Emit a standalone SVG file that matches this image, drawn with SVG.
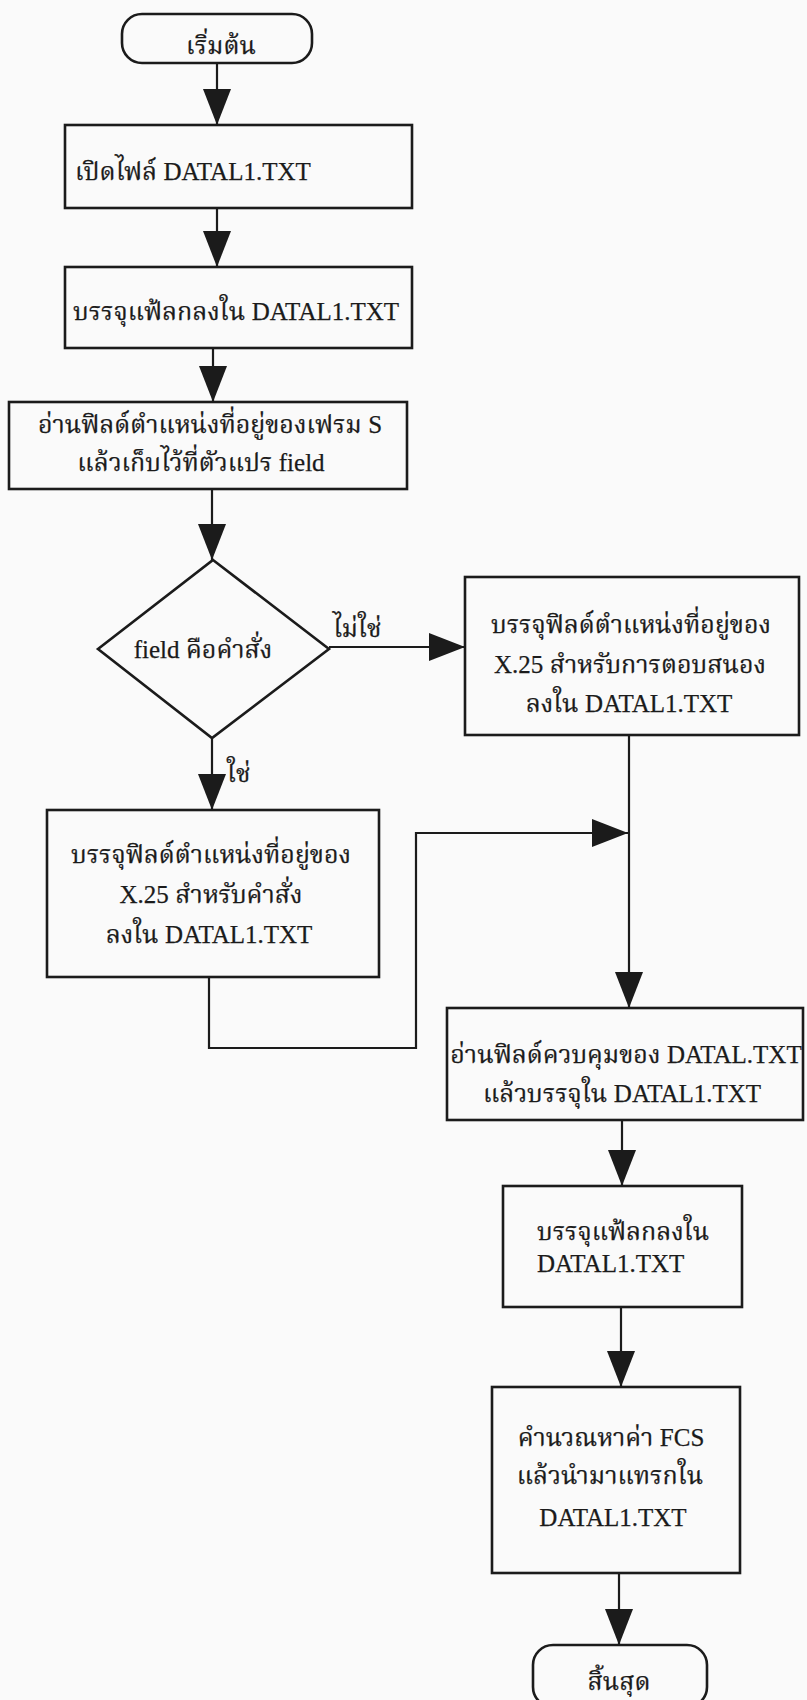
<svg xmlns="http://www.w3.org/2000/svg" width="807" height="1700" viewBox="0 0 807 1700">
  <style>
    .shape { fill: none; stroke: #1b1b1b; stroke-width: 2.6; }
    .wire { fill: none; stroke: #1b1b1b; stroke-width: 2.2; }
    .lbl { font-family: "Noto Serif Thai", "Norasi", "Kinnari", "Noto Sans Thai", "Liberation Serif", serif; font-size: 25px; fill: #1b1b1b; stroke: #1b1b1b; stroke-width: 0.25; }
    .lat { font-family: "Liberation Serif", "Times New Roman", serif; }
    .mid { text-anchor: middle; }
  </style>
  <defs>
    <marker id="ah" markerUnits="userSpaceOnUse" markerWidth="36" markerHeight="28" refX="36" refY="14" orient="auto">
      <path d="M0,0 L36,14 L0,28 Z" fill="#1b1b1b"/>
    </marker>
  </defs>
  <rect width="807" height="1700" fill="#fafafa"/>

  <!-- connectors -->
  <g id="connectors">
    <line class="wire" x1="217" y1="63" x2="217" y2="125" marker-end="url(#ah)"/>
    <line class="wire" x1="217" y1="208" x2="217" y2="267" marker-end="url(#ah)"/>
    <line class="wire" x1="213" y1="348" x2="213" y2="402" marker-end="url(#ah)"/>
    <line class="wire" x1="212" y1="489" x2="212" y2="560" marker-end="url(#ah)"/>
    <line class="wire" x1="329" y1="647" x2="465" y2="647" marker-end="url(#ah)"/>
    <line class="wire" x1="212" y1="738" x2="212" y2="810" marker-end="url(#ah)"/>
    <polyline class="wire" points="209,977 209,1048 416,1048 416,833 628,833" marker-end="url(#ah)"/>
    <line class="wire" x1="629" y1="735" x2="629" y2="1008" marker-end="url(#ah)"/>
    <line class="wire" x1="622" y1="1120" x2="622" y2="1186" marker-end="url(#ah)"/>
    <line class="wire" x1="621" y1="1307" x2="621" y2="1387" marker-end="url(#ah)"/>
    <line class="wire" x1="619" y1="1573" x2="619" y2="1645" marker-end="url(#ah)"/>
    <text class="lbl" x="333" y="637">ไม่ใช่</text>
    <text class="lbl" x="227" y="782">ใช่</text>
  </g>

  <!-- start -->
  <g id="start">
    <rect class="shape" x="122" y="14" width="190" height="49" rx="20"/>
    <text class="lbl mid" x="221" y="54">เริ่มต้น</text>
  </g>

  <g id="open-file">
    <rect class="shape" x="65" y="125" width="347" height="83"/>
    <text class="lbl" x="75" y="180">เปิดไฟล์ <tspan class="lat">DATAL1.TXT</tspan></text>
  </g>

  <g id="put-flag">
    <rect class="shape" x="65" y="267" width="347" height="81"/>
    <text class="lbl" x="73" y="320">บรรจุแฟ้ลกลงใน <tspan class="lat">DATAL1.TXT</tspan></text>
  </g>

  <g id="read-address">
    <rect class="shape" x="9" y="402" width="398" height="87"/>
    <text class="lbl mid" x="210" y="433">อ่านฟิลด์ตำแหน่งที่อยู่ของเฟรม <tspan class="lat">S</tspan></text>
    <text class="lbl mid" x="201" y="471">แล้วเก็บไว้ที่ตัวแปร <tspan class="lat">field</tspan></text>
  </g>

  <g id="is-command">
    <polygon class="shape" points="213,560 329,649 212,738 98,649"/>
    <text class="lbl mid" x="203" y="658"><tspan class="lat">field</tspan> คือคำสั่ง</text>
  </g>

  <g id="store-response">
    <rect class="shape" x="465" y="577" width="334" height="158"/>
    <text class="lbl mid" x="631" y="633">บรรจุฟิลด์ตำแหน่งที่อยู่ของ</text>
    <text class="lbl mid" x="630" y="673"><tspan class="lat">X.25</tspan> สำหรับการตอบสนอง</text>
    <text class="lbl mid" x="629" y="712">ลงใน <tspan class="lat">DATAL1.TXT</tspan></text>
  </g>

  <g id="store-command">
    <rect class="shape" x="47" y="810" width="332" height="167"/>
    <text class="lbl mid" x="211" y="863">บรรจุฟิลด์ตำแหน่งที่อยู่ของ</text>
    <text class="lbl mid" x="211" y="903"><tspan class="lat">X.25</tspan> สำหรับคำสั่ง</text>
    <text class="lbl mid" x="209" y="943">ลงใน <tspan class="lat">DATAL1.TXT</tspan></text>
  </g>

  <g id="read-control">
    <rect class="shape" x="447" y="1008" width="356" height="112"/>
    <text class="lbl mid" x="626" y="1063">อ่านฟิลด์ควบคุมของ <tspan class="lat">DATAL.TXT</tspan></text>
    <text class="lbl mid" x="622" y="1102">แล้วบรรจุใน <tspan class="lat">DATAL1.TXT</tspan></text>
  </g>

  <g id="put-flag-end">
    <rect class="shape" x="503" y="1186" width="239" height="121"/>
    <text class="lbl" x="537" y="1240">บรรจุแฟ้ลกลงใน</text>
    <text class="lbl lat" x="537" y="1272">DATAL1.TXT</text>
  </g>

  <g id="compute-fcs">
    <rect class="shape" x="492" y="1387" width="248" height="186"/>
    <text class="lbl mid" x="611" y="1446">คำนวณหาค่า <tspan class="lat">FCS</tspan></text>
    <text class="lbl mid" x="610" y="1484">แล้วนำมาแทรกใน</text>
    <text class="lbl mid lat" x="613" y="1526">DATAL1.TXT</text>
  </g>

  <g id="end">
    <rect class="shape" x="533" y="1645" width="174" height="62" rx="20"/>
    <text class="lbl mid" x="619" y="1690">สิ้นสุด</text>
  </g>
</svg>
